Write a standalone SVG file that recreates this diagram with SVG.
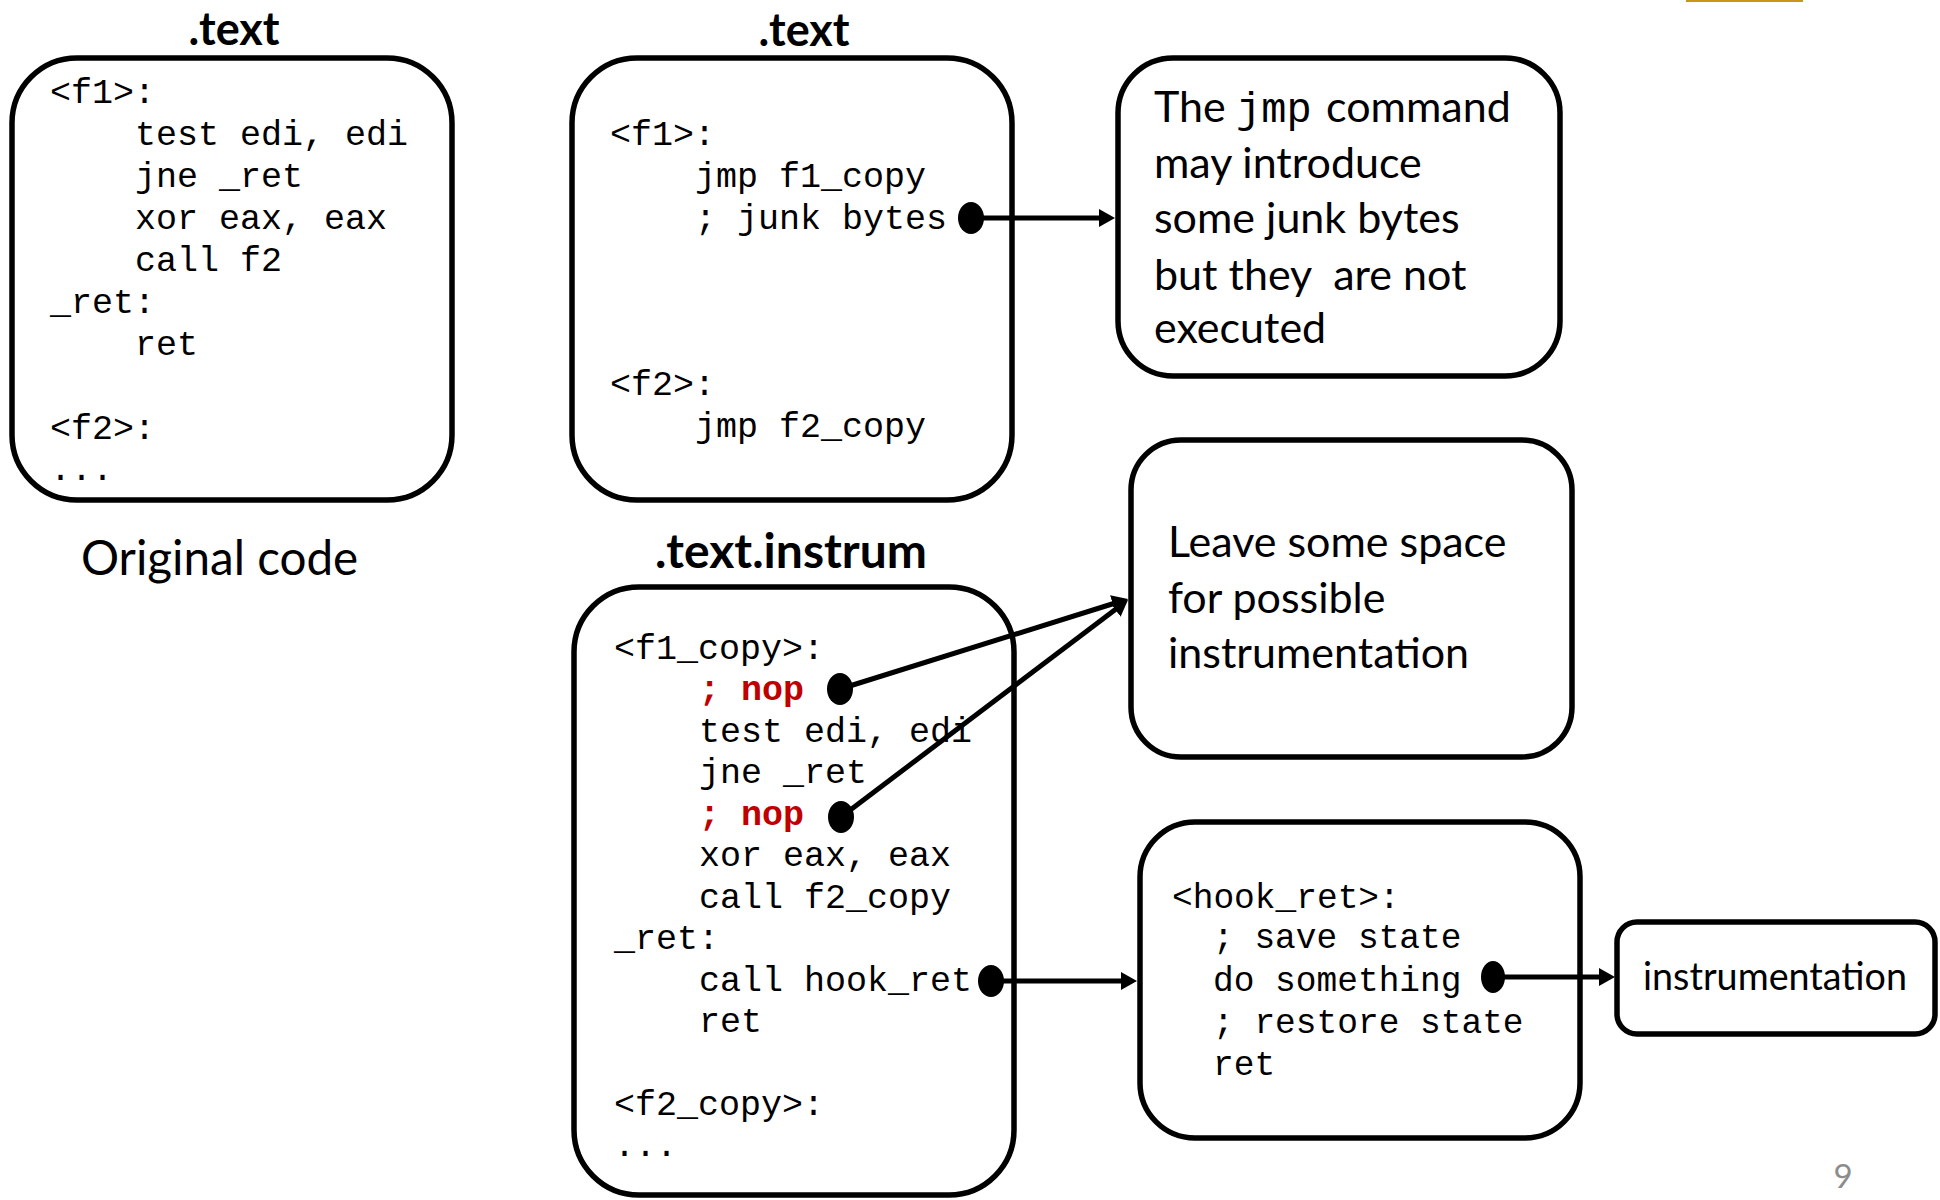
<svg xmlns="http://www.w3.org/2000/svg" width="1940" height="1200" viewBox="0 0 1940 1200">
<style>
  .box { fill: #ffffff; stroke: #000000; stroke-width: 5.5; }
  .code { font-family: "Liberation Mono", "Courier New", monospace; font-size: 35px; fill: #000000; }
  .code6 { font-family: "Liberation Mono", "Courier New", monospace; font-size: 34.5px; fill: #000000; }
  .nop { font-weight: bold; fill: #C00000; }
  .title { font-family: Lato, "Liberation Sans", sans-serif; font-weight: bold; font-size: 45px; fill: #000000; text-anchor: middle; }
  .note { font-family: Lato, "Liberation Sans", sans-serif; font-size: 43px; fill: #000000; }
  .mono { font-family: "Liberation Mono", "Courier New", monospace; font-size: 42px; }
  .conn { stroke: #000000; stroke-width: 5; fill: none; }
  .dot { fill: #000000; }
</style>
<defs>
  <marker id="arrow" markerUnits="userSpaceOnUse" markerWidth="16" markerHeight="18" refX="6" refY="9" orient="auto">
    <path d="M0,0 L16,9 L0,18 z" fill="#000000"/>
  </marker>
</defs>
<rect width="1940" height="1200" fill="#ffffff"/>
<rect x="1686" y="0" width="117" height="2" fill="#C9961A"/>

<g id="original">
  <text class="title" x="234" y="45">.text</text>
  <rect class="box" x="12" y="58" width="440" height="442" rx="65" ry="65"/>
  <text class="code" x="50" y="103">&lt;f1&gt;:</text>
  <text class="code" x="135" y="145">test edi, edi</text>
  <text class="code" x="135" y="187">jne _ret</text>
  <text class="code" x="135" y="229">xor eax, eax</text>
  <text class="code" x="135" y="271">call f2</text>
  <text class="code" x="50" y="313">_ret:</text>
  <text class="code" x="135" y="355">ret</text>
  <text class="code" x="50" y="439">&lt;f2&gt;:</text>
  <text class="code" x="50" y="480">...</text>
  <text class="note" x="81" y="575" style="font-size:47.6px">Original code</text>
</g>

<g id="text-stub">
  <text class="title" x="804" y="46">.text</text>
  <rect class="box" x="572" y="58" width="440" height="442" rx="65" ry="65"/>
  <text class="code" x="610" y="145">&lt;f1&gt;:</text>
  <text class="code" x="695" y="187">jmp f1_copy</text>
  <text class="code" x="695" y="229">; junk bytes</text>
  <text class="code" x="610" y="395">&lt;f2&gt;:</text>
  <text class="code" x="695" y="437">jmp f2_copy</text>
</g>

<g id="note-jmp">
  <rect class="box" x="1118" y="58" width="442" height="318" rx="55" ry="55"/>
  <text class="note" y="122"><tspan x="1154">The</tspan><tspan class="mono" x="1236">jmp</tspan><tspan x="1326">command</tspan></text>
  <text class="note" x="1154" y="178">may introduce</text>
  <text class="note" x="1154" y="233">some junk bytes</text>
  <text class="note" x="1154" y="290" xml:space="preserve">but they  are not</text>
  <text class="note" x="1154" y="343">executed</text>
</g>

<g id="text-instrum">
  <text class="title" x="791" y="568" style="font-size:48px">.text.instrum</text>
  <rect class="box" x="574" y="587" width="440" height="608" rx="65" ry="65"/>
  <text class="code" x="614" y="659">&lt;f1_copy&gt;:</text>
  <text class="code nop" x="699" y="700">; nop</text>
  <text class="code" x="699" y="742">test edi, edi</text>
  <text class="code" x="699" y="783">jne _ret</text>
  <text class="code nop" x="699" y="825">; nop</text>
  <text class="code" x="699" y="866">xor eax, eax</text>
  <text class="code" x="699" y="908">call f2_copy</text>
  <text class="code" x="614" y="949">_ret:</text>
  <text class="code" x="699" y="991">call hook_ret</text>
  <text class="code" x="699" y="1032">ret</text>
  <text class="code" x="614" y="1115">&lt;f2_copy&gt;:</text>
  <text class="code" x="614" y="1156">...</text>
</g>

<g id="note-space">
  <rect class="box" x="1131" y="440" width="441" height="317" rx="50" ry="50"/>
  <text class="note" x="1168" y="557">Leave some space</text>
  <text class="note" x="1168" y="613">for possible</text>
  <text class="note" x="1168" y="668">instrumentation</text>
</g>

<g id="hook-ret">
  <rect class="box" x="1140" y="822" width="440" height="316" rx="55" ry="55"/>
  <text class="code6" x="1172" y="908">&lt;hook_ret&gt;:</text>
  <text class="code6" x="1213" y="948">; save state</text>
  <text class="code6" x="1213" y="991">do something</text>
  <text class="code6" x="1213" y="1033">; restore state</text>
  <text class="code6" x="1213" y="1075">ret</text>
</g>

<g id="instrumentation">
  <rect class="box" x="1617" y="922" width="318" height="112" rx="20" ry="20"/>
  <text class="note" x="1643" y="990" style="font-size:37.7px">instrumentation</text>
</g>

<text x="1843" y="1188" style="font-family:Lato,'Liberation Sans',sans-serif;font-size:33px;fill:#8C8C8C;text-anchor:middle">9</text>

<g id="connectors">
  <line class="conn" x1="971" y1="218" x2="1105" y2="218" marker-end="url(#arrow)"/>
  <line class="conn" x1="840" y1="689" x2="1118.5" y2="602" marker-end="url(#arrow)"/>
  <line class="conn" x1="841" y1="817" x2="1120" y2="606" marker-end="url(#arrow)"/>
  <line class="conn" x1="991" y1="981" x2="1127" y2="981" marker-end="url(#arrow)"/>
  <line class="conn" x1="1493" y1="977" x2="1605" y2="977" marker-end="url(#arrow)"/>
  <ellipse class="dot" cx="971" cy="218" rx="13" ry="16"/>
  <ellipse class="dot" cx="840" cy="689" rx="13" ry="16"/>
  <ellipse class="dot" cx="841" cy="817" rx="13" ry="16"/>
  <ellipse class="dot" cx="991" cy="981" rx="13" ry="16"/>
  <ellipse class="dot" cx="1493" cy="977" rx="12" ry="16"/>
</g>
</svg>
